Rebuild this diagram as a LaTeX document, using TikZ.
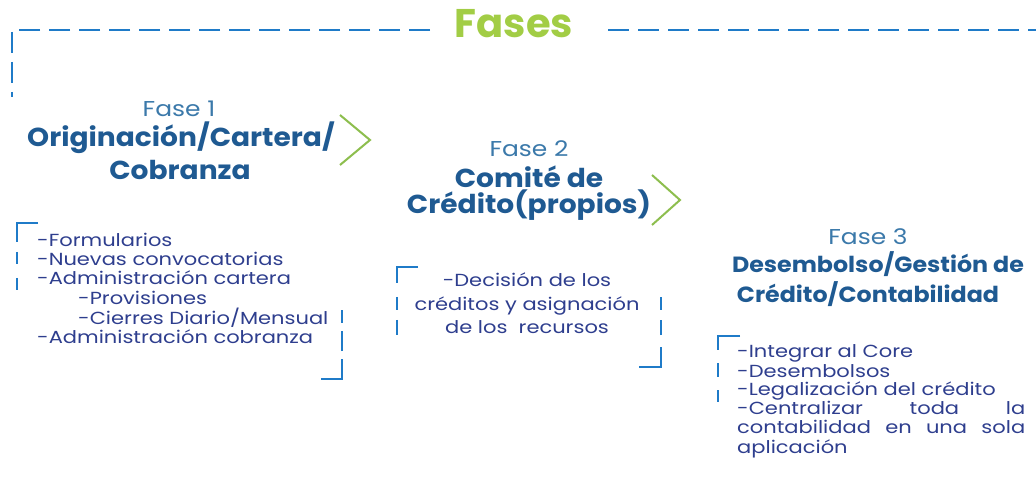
\documentclass[tikz,border=0pt]{standalone}
\usepackage{fontspec}
\setmainfont{Poppins}
\newfontfamily\bodyf[FakeStretch=1.2]{Poppins}
\newfontfamily\titlef[FakeStretch=1.08]{Poppins}
\newfontfamily\lblf[FakeStretch=1.16]{Poppins}
\definecolor{dashblue}{HTML}{1F7BC8}
\definecolor{fasegreen}{HTML}{A2CD45}
\definecolor{chevgreen}{HTML}{8DBE4E}
\definecolor{faselbl}{HTML}{3B79AA}
\definecolor{titleblue}{HTML}{1F5A92}
\definecolor{bodyblue}{HTML}{2E3E8E}
\tikzset{
  frame/.style={draw=dashblue, line width=2pt, dash pattern=on 21pt off 9pt},
  brk/.style={draw=dashblue, line width=2pt},
  chev/.style={draw=chevgreen, line width=2pt},
  lbl/.style={text=faselbl, font=\lblf\fontsize{21.5}{24}\selectfont, inner sep=0pt, anchor=base},
  ttl/.style={text=titleblue, font=\titlef\bfseries\fontsize{26}{30}\selectfont, inner sep=0pt, anchor=base},
  ttlsm/.style={text=titleblue, font=\titlef\bfseries\fontsize{22}{26}\selectfont, inner sep=0pt, anchor=base},
  bodyline/.style={text=bodyblue, font=\bodyf\fontsize{17.5}{19}\selectfont, inner sep=0pt, anchor=base west},
  bodyc/.style={text=bodyblue, font=\bodyf\fontsize{17.5}{19}\selectfont, inner sep=0pt, anchor=base},
}
\begin{document}
\begin{tikzpicture}[x=1pt,y=-1pt]
\useasboundingbox (0,0) rectangle (1036,478);
% title
\node[text=fasegreen, font=\bfseries\fontsize{40}{44}\selectfont, inner sep=0pt, anchor=base] (fases) at (514,38) {Fases};
\coordinate (fl) at (430,30);
\coordinate (fc) at (12,30);
\coordinate (fb) at (12,97);
\coordinate (fr) at (608,30);
\coordinate (fe) at (1040,30);
\draw[frame] (fl) -- (fc) -- (fb);
\draw[frame] (fr) -- (fe);
% phase 1
\node[lbl] (f1) at (179,117) {Fase 1};
\node[ttl] (t1a) at (181,147) {Originación/Cartera/};
\node[ttl] (t1b) at (180,180) {Cobranza};
\coordinate (c1a) at (340,115);
\coordinate (c1b) at (370,140);
\coordinate (c1c) at (340,165);
\draw[chev] (c1a) -- (c1b) -- (c1c);
% phase 2
\node[lbl] (f2) at (529,157) {Fase 2};
\node[ttl] (t2a) at (529,188) {Comité de};
\node[ttl] (t2b) at (529,214) {Crédito(propios)};
\coordinate (c2a) at (652,175);
\coordinate (c2b) at (680,200);
\coordinate (c2c) at (652,225);
\draw[chev] (c2a) -- (c2b) -- (c2c);
% phase 3
\node[lbl] (f3) at (868,245) {Fase 3};
\node[ttlsm] (t3a) at (878,273) {Desembolso/Gestión de};
\node[ttlsm] (t3b) at (868,302) {Crédito/Contabilidad};
% box 1 brackets
\draw[brk] (38,223) -- (17,223) -- (17,242);
\draw[brk] (17,252) -- (17,264);
\draw[brk] (17,278) -- (17,290);
\draw[brk] (321,379) -- (342,379) -- (342,359);
\draw[brk] (342,351) -- (342,331);
\draw[brk] (342,323) -- (342,310);
% box 1 text
\node[bodyline] (b1a) at (37,247) {-Formularios};
\node[bodyline] (b1b) at (37,266) {-Nuevas convocatorias};
\node[bodyline] (b1c) at (37,285) {-Administración cartera};
\node[bodyline] (b1d) at (78,305) {-Provisiones};
\node[bodyline] (b1e) at (78,324) {-Cierres Diario/Mensual};
\node[bodyline] (b1f) at (37,343) {-Administración cobranza};
% box 2 brackets
\draw[brk] (418,267) -- (397,267) -- (397,283);
\draw[brk] (397,297) -- (397,310);
\draw[brk] (397,320) -- (397,335);
\draw[brk] (639,367) -- (661,367) -- (661,347);
\draw[brk] (661,335) -- (661,320);
\draw[brk] (661,310) -- (661,297);
% box 2 text
\node[bodyc] (b2a) at (527,287) {-Decisión de los};
\node[bodyc] (b2b) at (527,311) {créditos y asignación};
\node[bodyc] (b2c) at (527,334) {de los\ \ recursos};
% box 3 brackets
\draw[brk] (740,336) -- (718,336) -- (718,350);
\draw[brk] (718,363) -- (718,377);
\draw[brk] (718,390) -- (718,402);
% box 3 text
\node[bodyline] (b3a) at (737,357) {-Integrar al Core};
\node[bodyline] (b3b) at (737,377) {-Desembolsos};
\node[bodyline] (b3c) at (737,395) {-Legalización del crédito};
\node[bodyline] (b3d) at (737,414) {\makebox[288pt][s]{-Centralizar\hfill toda\hfill la}};
\node[bodyline] (b3e) at (737,433) {\makebox[288pt][s]{contabilidad\hfill en\hfill una\hfill sola}};
\node[bodyline] (b3f) at (737,453) {aplicación};
\end{tikzpicture}
\end{document}
